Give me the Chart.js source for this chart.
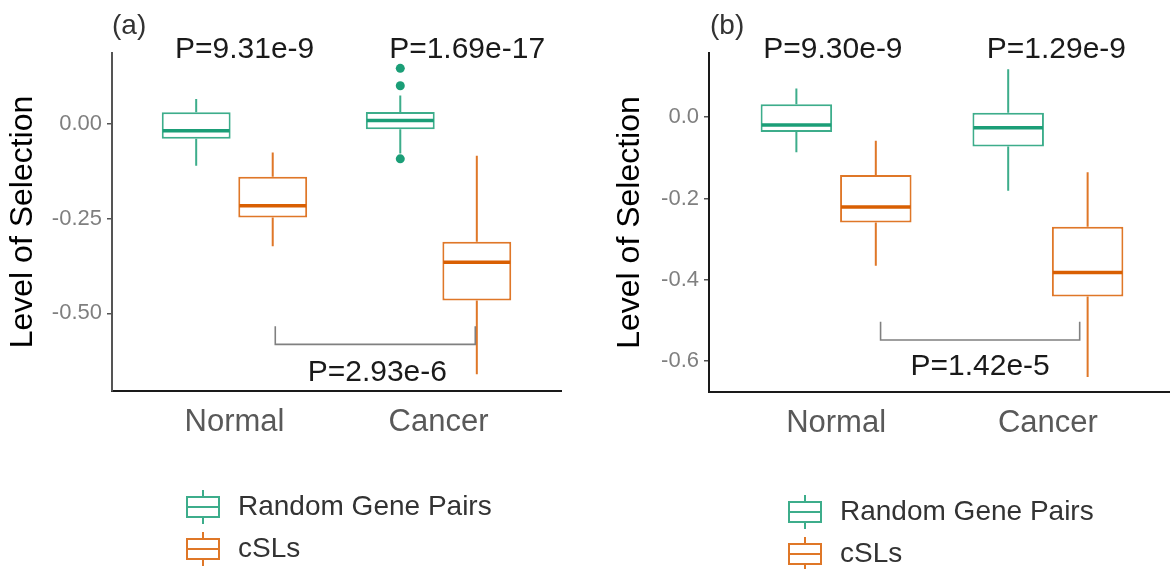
<!DOCTYPE html>
<html>
<head>
<meta charset="utf-8">
<title>Level of Selection: Random Gene Pairs vs cSLs</title>
<script src="https://cdn.jsdelivr.net/npm/chart.js@4.4.1/dist/chart.umd.min.js"></script>
<style>
  html, body { margin: 0; padding: 0; background: #fff; }
  #wrap { position: relative; width: 1170px; height: 569px; overflow: hidden; }
  #panelA { position: absolute; left: 0; top: 0; }
  #panelB { position: absolute; left: 585px; top: 0; }
</style>
</head>
<body>
<div id="wrap">
  <canvas id="panelA" width="585" height="569"></canvas>
  <canvas id="panelB" width="600" height="569"></canvas>
</div>
<script>
// ---------------- data ----------------
const categories = ['Normal', 'Cancer'];
const seriesNames = ['Random Gene Pairs', 'cSLs'];

// five-number summaries per category: [lower whisker, Q1, median, Q3, upper whisker]
const panelARandom = [[-0.110, -0.039, -0.018, 0.031, 0.066], [-0.078, -0.014, 0.009, 0.032, 0.075]];
const panelACsl    = [[-0.323, -0.247, -0.216, -0.139, -0.075], [-0.661, -0.466, -0.365, -0.311, -0.084]];
const panelARandomOutliers = [[], [0.147, 0.101, -0.092]];
const panelACslOutliers    = [[], []];

const panelBRandom = [[-0.086, -0.036, -0.019, 0.032, 0.071], [-0.181, -0.072, -0.026, 0.011, 0.118]];
const panelBCsl    = [[-0.365, -0.259, -0.221, -0.142, -0.058], [-0.639, -0.441, -0.382, -0.269, -0.135]];
const panelBRandomOutliers = [[], []];
const panelBCslOutliers    = [[], []];

const panelATicks = [0, -0.25, -0.5];
const panelATickLabels = ['0.00', '-0.25', '-0.50'];
const panelBTicks = [0, -0.2, -0.4, -0.6];
const panelBTickLabels = ['0.0', '-0.2', '-0.4', '-0.6'];

const panelAPValues = ['P=9.31e-9', 'P=1.69e-17'];
const panelABracketP = 'P=2.93e-6';
const panelBPValues = ['P=9.30e-9', 'P=1.29e-9'];
const panelBBracketP = 'P=1.42e-5';

// ---------------- styling ----------------
const FONT = "'Liberation Sans', Arial, Helvetica, sans-serif";
Chart.defaults.font.family = FONT;

const GREEN = '#1B9E77', GREEN_LINE = '#3dad8b';
const ORANGE = '#D95F02', ORANGE_LINE = '#df7728';

// small boxplot glyph used as the legend key
function makeKeyIcon(color) {
  const c = document.createElement('canvas');
  c.width = 36; c.height = 36;
  const g = c.getContext('2d');
  g.strokeStyle = color;
  g.lineWidth = 2;
  g.strokeRect(2, 8, 32, 20);
  g.beginPath();
  g.moveTo(2, 18); g.lineTo(34, 18);
  g.moveTo(18, 1); g.lineTo(18, 8);
  g.moveTo(18, 28); g.lineTo(18, 35);
  g.stroke();
  return c;
}
const keyIcons = [makeKeyIcon(GREEN_LINE), makeKeyIcon(ORANGE_LINE)];

// whiskers, medians and outlier points on top of the Q1-Q3 floating bars
const boxWhiskers = {
  id: 'boxWhiskers',
  afterDatasetsDraw(chart) {
    const ctx = chart.ctx, ys = chart.scales.y;
    chart.data.datasets.forEach((ds, d) => {
      const meta = chart.getDatasetMeta(d);
      meta.data.forEach((bar, i) => {
        const [lo, q1, med, q3, hi] = ds.summary[i];
        const x = bar.x, half = bar.width / 2;
        ctx.save();
        ctx.strokeStyle = ds.borderColor;
        ctx.lineWidth = 2;
        ctx.beginPath();
        ctx.moveTo(x, ys.getPixelForValue(q3)); ctx.lineTo(x, ys.getPixelForValue(hi));
        ctx.moveTo(x, ys.getPixelForValue(q1)); ctx.lineTo(x, ys.getPixelForValue(lo));
        ctx.stroke();
        const ym = ys.getPixelForValue(med);
        ctx.strokeStyle = ds.medianColor;
        ctx.lineWidth = 3.5;
        ctx.beginPath();
        ctx.moveTo(x - half + 1, ym); ctx.lineTo(x + half - 1, ym);
        ctx.stroke();
        ctx.fillStyle = ds.medianColor;
        (ds.outliers[i] || []).forEach(v => {
          ctx.beginPath();
          ctx.arc(x, ys.getPixelForValue(v), 4.5, 0, Math.PI * 2);
          ctx.fill();
        });
        ctx.restore();
      });
    });
  }
};

// p-value labels, comparison bracket and panel tag
const pAnnotations = {
  id: 'pAnnotations',
  afterDraw(chart, args, o) {
    const ctx = chart.ctx, xs = chart.scales.x, ys = chart.scales.y;
    ctx.save();
    const b = o.bracket;
    const x0 = xs.getPixelForValue(b.x[0]), x1 = xs.getPixelForValue(b.x[1]);
    const yt = ys.getPixelForValue(b.top), yb = ys.getPixelForValue(b.bar);
    ctx.strokeStyle = '#808080';
    ctx.lineWidth = 1.6;
    ctx.beginPath();
    ctx.moveTo(x0, yt); ctx.lineTo(x0, yb); ctx.lineTo(x1, yb); ctx.lineTo(x1, yt);
    ctx.stroke();

    ctx.font = '30px ' + FONT;
    ctx.fillStyle = '#1a1a1a';
    ctx.textAlign = 'center';
    ctx.textBaseline = 'middle';
    o.labels.forEach(l => ctx.fillText(l.text, xs.getPixelForValue(l.x), ys.getPixelForValue(l.y)));

    ctx.font = '28px ' + FONT;
    ctx.fillStyle = '#333';
    ctx.textAlign = 'left';
    ctx.fillText(o.tag.text, chart.chartArea.left + o.tag.dx, o.tag.y);
    ctx.restore();
  }
};

// puts the vertical legend list below the x axis
const legendPlacer = {
  id: 'legendPlacer',
  afterLayout(chart, args, o) {
    const lg = chart.legend;
    if (!lg) return;
    lg.left = o.x; lg.top = o.y;
    lg.width = o.w; lg.height = o.h;
    lg.right = o.x + o.w; lg.bottom = o.y + o.h;
  }
};

function boxDatasets(randomStats, cslStats, randomOut, cslOut) {
  const common = { backgroundColor: '#ffffff', borderWidth: 2, borderSkipped: false };
  return [
    Object.assign({
      label: seriesNames[0],
      data: randomStats.map((s, i) => ({ x: i + 1, y: [s[1], s[3]] })),
      summary: randomStats, outliers: randomOut,
      borderColor: GREEN_LINE, medianColor: GREEN
    }, common),
    Object.assign({
      label: seriesNames[1],
      data: cslStats.map((s, i) => ({ x: i + 1, y: [s[1], s[3]] })),
      summary: cslStats, outliers: cslOut,
      borderColor: ORANGE_LINE, medianColor: ORANGE
    }, common)
  ];
}

function makePanel(id, p) {
  return new Chart(document.getElementById(id), {
    type: 'bar',
    data: { datasets: p.datasets },
    options: {
      responsive: false,
      animation: false,
      events: [],
      devicePixelRatio: 1,
      layout: { padding: p.padding },
      datasets: { bar: { categoryPercentage: 0.75, barPercentage: 0.9 } },
      scales: {
        x: {
          type: 'linear', min: 0.4, max: 2.6, offset: false,
          afterBuildTicks: s => { s.ticks = categories.map((c, i) => ({ value: i + 1 })); },
          afterFit: s => { s.height = 60; },
          ticks: {
            callback: (v, i) => categories[i],
            font: { size: 31 }, color: '#595959', padding: 5,
            maxRotation: 0, autoSkip: false
          },
          grid: { display: false },
          border: { display: true, color: '#1a1a1a', width: 2 }
        },
        y: {
          type: 'linear', min: p.yMin, max: p.yMax,
          afterBuildTicks: s => { s.ticks = p.ticks.map(v => ({ value: v })); },
          afterFit: s => { s.width = p.yWidth; },
          ticks: {
            callback: (v, i) => p.tickLabels[i],
            font: { size: 22 }, color: '#7f7f7f', padding: 5, autoSkip: false
          },
          grid: { display: true, drawOnChartArea: false, drawTicks: true, tickLength: 5, color: '#555', lineWidth: 1.5 },
          border: { display: true, color: p.yAxisColor, width: 2 },
          title: {
            display: true, text: 'Level of Selection',
            font: { size: 32 }, color: '#000',
            padding: { top: p.titlePad, bottom: 0 }
          }
        }
      },
      plugins: {
        tooltip: { enabled: false },
        legend: {
          display: true, position: 'chartArea', align: 'start',
          labels: {
            usePointStyle: true, pointStyleWidth: 42, padding: 14,
            font: { size: 28 }, color: '#333',
            generateLabels: () => seriesNames.map((t, i) => ({
              text: t, pointStyle: keyIcons[i], fontColor: '#333', hidden: false,
              datasetIndex: i, lineWidth: 0, fillStyle: 'rgba(0,0,0,0)', strokeStyle: 'rgba(0,0,0,0)'
            }))
          }
        },
        pAnnotations: p.annotations,
        legendPlacer: p.legendBox
      }
    },
    plugins: [boxWhiskers, pAnnotations, legendPlacer]
  });
}

makePanel('panelA', {
  datasets: boxDatasets(panelARandom, panelACsl, panelARandomOutliers, panelACslOutliers),
  padding: { top: 53, right: 24, bottom: 118, left: 0 },
  yMin: -0.705, yMax: 0.1875, yWidth: 112, titlePad: 4, yAxisColor: '#555',
  ticks: panelATicks, tickLabels: panelATickLabels,
  annotations: {
    labels: [
      { text: panelAPValues[0], x: 1.05, y: 0.196 },
      { text: panelAPValues[1], x: 2.14, y: 0.196 },
      { text: panelABracketP, x: 1.70, y: -0.656 }
    ],
    bracket: { x: [1.2, 2.18], top: -0.534, bar: -0.582 },
    tag: { text: '(a)', dx: 0, y: 26 }
  },
  legendBox: { x: 168, y: 479, w: 360, h: 110 }
});

makePanel('panelB', {
  datasets: boxDatasets(panelBRandom, panelBCsl, panelBRandomOutliers, panelBCslOutliers),
  padding: { top: 53, right: 10, bottom: 117, left: 0 },
  yMin: -0.6757, yMax: 0.158, yWidth: 124, titlePad: 26, yAxisColor: '#1a1a1a',
  ticks: panelBTicks, tickLabels: panelBTickLabels,
  annotations: {
    labels: [
      { text: panelBPValues[0], x: 0.985, y: 0.165 },
      { text: panelBPValues[1], x: 2.04, y: 0.165 },
      { text: panelBBracketP, x: 1.68, y: -0.613 }
    ],
    bracket: { x: [1.21, 2.15], top: -0.503, bar: -0.548 },
    tag: { text: '(b)', dx: 1, y: 26 }
  },
  legendBox: { x: 185, y: 484, w: 360, h: 110 }
});
</script>
</body>
</html>
